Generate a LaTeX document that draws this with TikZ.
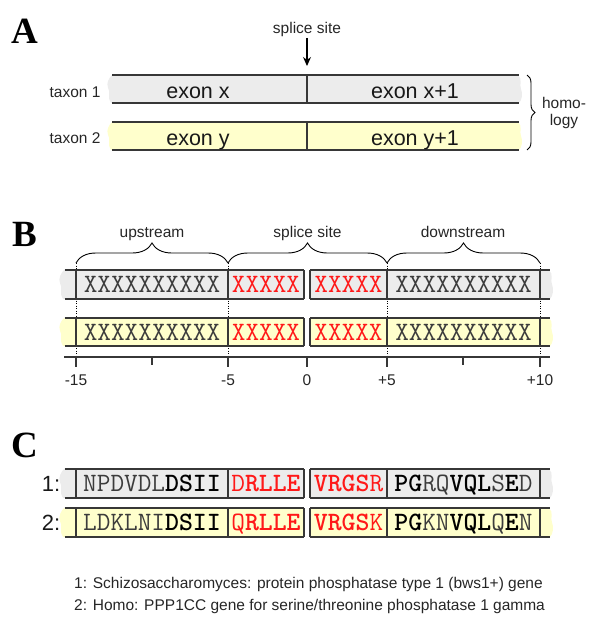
\documentclass[tikz,border=0pt]{standalone}
\usepackage{fontspec}
\setmainfont{Liberation Sans}
\newfontfamily\lettfont{Liberation Serif}
\usetikzlibrary{decorations.pathreplacing,arrows.meta}
\definecolor{barGray}{RGB}{236,236,236}
\definecolor{barYellow}{RGB}{255,255,204}
\definecolor{lineC}{RGB}{55,55,55}
\definecolor{seqRed}{RGB}{255,25,25}
\definecolor{seqGray}{RGB}{60,60,60}
\newcommand{\tornfill}[5]{%
  \pgfmathsetmacro{\tfh}{#5-#4}%
  \fill[#1] ({#2+2},{#4}) -- ({#3-1},{#4})
    .. controls ({#3+4},{#4+0.15*\tfh}) and ({#3},{#4+0.35*\tfh}) .. ({#3+2},{#4+0.5*\tfh})
    .. controls ({#3+4},{#4+0.65*\tfh}) and ({#3+3},{#4+0.9*\tfh}) .. ({#3},{#5})
    -- ({#2+1},{#5})
    .. controls ({#2-3},{#4+0.85*\tfh}) and ({#2+1},{#4+0.6*\tfh}) .. ({#2-2},{#4+0.45*\tfh})
    .. controls ({#2-4},{#4+0.3*\tfh}) and ({#2-1},{#4+0.1*\tfh}) .. cycle;}
\newcommand{\sqB}[1]{{\bfseries\color{black}#1}}
\newcommand{\sqR}[1]{{\color{seqRed}#1}}
\newcommand{\sqRB}[1]{{\bfseries\color{seqRed}#1}}
\begin{document}
\begin{tikzpicture}[x=1pt,y=-1pt,
  lbl/.style={font=\fontsize{15.5}{18}\selectfont, inner sep=0pt, anchor=base, text=black!85},
  exonlbl/.style={font=\fontsize{21.5}{24}\selectfont, inner sep=0pt, anchor=base, text=black!90},
  numlbl/.style={font=\fontsize{22}{24}\selectfont, inner sep=0pt, anchor=base, text=black!90},
  panel/.style={font=\lettfont\bfseries\fontsize{37}{40}\selectfont, inner sep=0pt},
  seq/.style={font=\ttfamily\fontsize{26.5}{28}\selectfont, inner sep=0pt, anchor=base, text=seqGray},
  barline/.style={draw=lineC, line width=1.3pt},
  guide/.style={draw=black, line width=0.5pt, dotted},
  bracepath/.style={decorate, decoration={brace, amplitude=#1}, draw=black, line width=0.9pt},
]
\useasboundingbox (0,0) rectangle (600,621);

% ---------------- Panel A ----------------
\node[panel] (pA) at (25,31) {A};
\node[lbl] (ssA) at (307,33.5) {splice site};
\coordinate (tipA) at (307,66);
\draw[line width=1.2pt, -{Stealth[length=9pt,width=8pt]}] ([yshift=-1pt]ssA.south) -- (tipA);

\tornfill{barGray}{110}{519}{75}{103}
\tornfill{barYellow}{110}{519}{122}{150}
\draw[barline] (112,75) -- (519,75);
\draw[barline] (112,103) -- (519,103);
\draw[barline] (112,122) -- (519,122);
\draw[barline] (112,150) -- (519,150);
\draw[barline] (307,75) -- (307,103);
\draw[barline] (307,122) -- (307,150);

\node[lbl] (tx1) at (75,97) {taxon 1};
\node[lbl] (tx2) at (75,143) {taxon 2};
\node[exonlbl] (ex) at (198,98) {exon x};
\node[exonlbl] (ex1) at (415,98) {exon x+1};
\node[exonlbl] (ey) at (198,145) {exon y};
\node[exonlbl] (ey1) at (415,145) {exon y+1};

\draw[bracepath=8] (527,75) -- (527,150);
\node[lbl] (hom1) at (564,108) {homo-};
\node[lbl] (hom2) at (564,125) {logy};

% ---------------- Panel B ----------------
\node[panel] (pB) at (25,234) {B};
\node[lbl] (up) at (152,237) {upstream};
\node[lbl] (ssB) at (307.5,237) {splice site};
\node[lbl] (down) at (463,237) {downstream};
\draw[bracepath=20] (76,263) -- (228,263);
\draw[bracepath=20] (228,263) -- (387,263);
\draw[bracepath=20] (387,263) -- (540,263);

\foreach \gx in {76,228,387,540} \draw[guide] (\gx,263) -- (\gx,357);

\tornfill{barGray}{62}{550}{270}{299}
\tornfill{barYellow}{62}{550}{318}{346}
\fill[white] (304,267) rectangle (310,302);
\fill[white] (304,315) rectangle (310,349);
\foreach \ty/\by in {270/299,318/346}{
  \draw[barline] (64.5,\ty) -- (304,\ty);
  \draw[barline] (310,\ty) -- (549.5,\ty);
  \draw[barline] (64.5,\by) -- (304,\by);
  \draw[barline] (310,\by) -- (549.5,\by);
  \foreach \vx in {76,228,304,310,387,540} \draw[barline] (\vx,\ty) -- (\vx,\by);
}
\node[seq] (b1a) at (152,292.6) {XXXXXXXXXX};
\node[seq, text=seqRed] (b1b) at (266,292.6) {XXXXX};
\node[seq, text=seqRed] (b1c) at (348.5,292.6) {XXXXX};
\node[seq] (b1d) at (463.5,292.6) {XXXXXXXXXX};
\node[seq] (b2a) at (152,340.1) {XXXXXXXXXX};
\node[seq, text=seqRed] (b2b) at (266,340.1) {XXXXX};
\node[seq, text=seqRed] (b2c) at (348.5,340.1) {XXXXX};
\node[seq] (b2d) at (463.5,340.1) {XXXXXXXXXX};

\draw[barline, line width=1.1pt] (64,357) -- (550,357);
\foreach \tx in {76,228,307,387,540} \draw[barline, line width=1.1pt] (\tx,357) -- (\tx,367);
\foreach \tx in {152,463} \draw[barline, line width=1.1pt] (\tx,357) -- (\tx,365);
\node[lbl] (tk1) at (76,385) {-15};
\node[lbl] (tk2) at (228,385) {-5};
\node[lbl] (tk3) at (307,385) {0};
\node[lbl] (tk4) at (387,385) {+5};
\node[lbl] (tk5) at (540,385) {+10};

% ---------------- Panel C ----------------
\node[panel] (pC) at (25,445) {C};
\tornfill{barGray}{62}{550}{469}{498}
\tornfill{barYellow}{62}{550}{508}{537}
\fill[white] (304,466) rectangle (310,501);
\fill[white] (304,505) rectangle (310,540);
\foreach \ty/\by in {469/498,508/537}{
  \draw[barline] (64.5,\ty) -- (304,\ty);
  \draw[barline] (310,\ty) -- (549.5,\ty);
  \draw[barline] (64.5,\by) -- (304,\by);
  \draw[barline] (310,\by) -- (549.5,\by);
  \foreach \vx in {76,228,304,310,387,540} \draw[barline] (\vx,\ty) -- (\vx,\by);
}
\node[numlbl] (n1) at (51,491.5) {1:};
\node[numlbl] (n2) at (51,530.5) {2:};
\node[seq] (c1a) at (152,491.6) {NPDVDL\sqB{DSII}};
\node[seq] (c1b) at (266,491.6) {\sqR{D}\sqRB{RLLE}};
\node[seq] (c1c) at (348.5,491.6) {\sqRB{VRGS}\sqR{R}};
\node[seq] (c1d) at (463.5,491.6) {\sqB{PG}RQ\sqB{VQL}S\sqB{E}D};
\node[seq] (c2a) at (152,530.6) {LDKLNI\sqB{DSII}};
\node[seq] (c2b) at (266,530.6) {\sqR{Q}\sqRB{RLLE}};
\node[seq] (c2c) at (348.5,530.6) {\sqRB{VRGS}\sqR{K}};
\node[seq] (c2d) at (463.5,530.6) {\sqB{PG}KN\sqB{VQL}Q\sqB{E}N};

\node[lbl, anchor=base west] (fn1) at (74,588) {1: Schizosaccharomyces: protein phosphatase type 1 (bws1+) gene};
\node[lbl, anchor=base west] (fn2) at (74,610) {2: Homo: PPP1CC gene for serine/threonine phosphatase 1 gamma};
\end{tikzpicture}
\end{document}
